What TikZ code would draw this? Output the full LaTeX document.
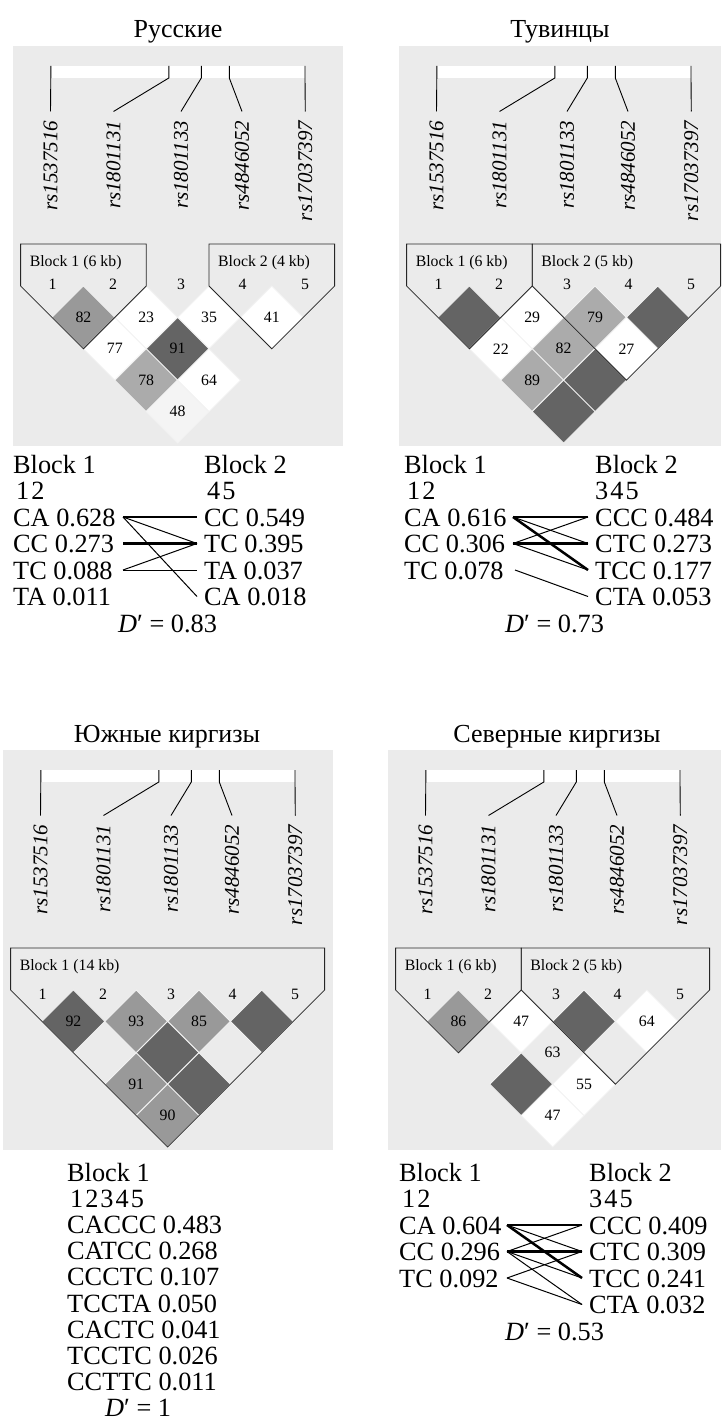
\documentclass[tikz,border=0pt]{standalone}
\usepackage{fontspec}
\setmainfont{Liberation Serif}
\definecolor{bggray}{HTML}{EBEBEB}
\definecolor{ddark}{HTML}{646464}
\definecolor{dmid}{HTML}{999999}
\definecolor{dlight}{HTML}{ABABAB}
\definecolor{dpale}{HTML}{F4F4F4}
\definecolor{cellsep}{HTML}{F2F2F2}
\newcommand\ldcell[3]{\filldraw[cellbox,fill=#3] ({39+31.4*(#1+#2-2)},{240+31.4*(#2-#1-1)}) -- ++(31.4,31.4) -- ++(-31.4,31.4) -- ++(-31.4,-31.4) -- cycle;}
\newcommand\ldtext[4]{\node[ldnum] (#4) at ({39+31.4*(#1+#2-2)},{240+31.4*(#2-#1)}) {#3};}
\newcommand\ldblock[4]{%
  \draw[blockline] ({39+62.8*(#1-1)-31.4},198) -- ({39+62.8*(#2-1)+31.4},198) -- ({39+62.8*(#2-1)+31.4},240) -- ({39+31.4*(#1+#2-2)},{240+31.4*(#2-#1+1)}) -- ({39+62.8*(#1-1)-31.4},240) -- cycle;
  \node[blocklabel] (#4) at ({39+62.8*(#1-1)-31.4+9},217) {#3};}
\newcommand\snptrack[1]{%
  \fill[white] (38,20) rectangle (292,32);
  \foreach \t/\l/\n/\s in {37.8/37.5/a/rs1537516,155.8/100.5/b/rs1801131,188.3/168/c/rs1801133,216.3/229/d/rs4846052,292/292.3/e/rs17037397}{%
    \coordinate (#1tick\n) at (\t,20);
    \node[snplabel] (#1snp\n) at (\l,74.5) {\s};
    \draw[snpline] (#1tick\n) -- ++(0,12) -- ([yshift=9bp]#1snp\n.east);
  }}
\newcommand\markers[2]{%
  \foreach \i/\xx in {1/39.5,2/100,3/168,4/229.5,5/292}{\node[ldnum] (#1m\i) at (\xx,#2) {\i};}}
\begin{document}
\begin{tikzpicture}[x=1bp,y=-1bp,
  panelbg/.style={fill=bggray,draw=none},
  snpline/.style={line width=0.9bp,black},
  snplabel/.style={font=\fontsize{21bp}{21bp}\selectfont\itshape,rotate=90,anchor=east,inner sep=0pt},
  blockline/.style={draw=black!85,line width=0.8bp},
  cellbox/.style={draw=cellsep,line width=0.8bp},
  ldnum/.style={font=\fontsize{15.8bp}{16bp}\selectfont,inner sep=0pt},
  blocklabel/.style={font=\fontsize{15.8bp}{16bp}\selectfont,inner sep=0pt,anchor=west},
  titletext/.style={font=\fontsize{26bp}{26bp}\selectfont,inner sep=0pt,anchor=base},
  hap/.style={font=\fontsize{26.3bp}{26bp}\selectfont,inner sep=0pt,anchor=base west},
  thinlink/.style={line width=1bp,black},
  thicklink/.style={line width=2.5bp,black}]
\useasboundingbox[fill=white] (0,0) rectangle (721,1420);

% ================= Top-left: Russians =================
\node[titletext] (tltitle) at (178,38) {Русские};
\begin{scope}[shift={(13,46)}]
  \fill[panelbg] (0,0) rectangle (330,400);
  \snptrack{tl}
  \ldcell{1}{2}{dmid}
  \ldcell{2}{3}{white}
  \ldcell{3}{4}{white}
  \ldcell{4}{5}{white}
  \ldcell{1}{3}{white}
  \ldcell{2}{4}{ddark}
  \ldcell{1}{4}{dlight}
  \ldcell{2}{5}{white}
  \ldcell{1}{5}{dpale}
  \ldtext{1}{2}{82}{tlc12}
  \ldtext{2}{3}{23}{tlc23}
  \ldtext{3}{4}{35}{tlc34}
  \ldtext{4}{5}{41}{tlc45}
  \ldtext{1}{3}{77}{tlc13}
  \ldtext{2}{4}{91}{tlc24}
  \ldtext{1}{4}{78}{tlc14}
  \ldtext{2}{5}{64}{tlc25}
  \ldtext{1}{5}{48}{tlc15}
  \ldblock{1}{2}{Block 1 (6 kb)}{tlblk1}
  \ldblock{4}{5}{Block 2 (4 kb)}{tlblk2}
  \markers{tl}{238}
\end{scope}
\node[hap] (tlB1) at (13,473) {Block 1};
\node[hap] (tlB2) at (204,473) {Block 2};
\node[hap] (tlN1) at (13,499.5) {\kern3bp 1\kern2bp 2};
\node[hap] (tlN2) at (204,499.5) {\kern3bp 4\kern2bp 5};
\node[hap] (tlL1) at (13,526) {CA 0.628};
\node[hap] (tlL2) at (13,552.5) {CC 0.273};
\node[hap] (tlL3) at (13,579) {TC 0.088};
\node[hap] (tlL4) at (13,605.5) {TA 0.011};
\node[hap] (tlR1) at (204,526) {CC 0.549};
\node[hap] (tlR2) at (204,552.5) {TC 0.395};
\node[hap] (tlR3) at (204,579) {TA 0.037};
\node[hap] (tlR4) at (204,605.5) {CA 0.018};
\node[hap] (tlD) at (118,632) {\textit{D}′ = 0.83};
\coordinate (tlp1) at (123,517);
\coordinate (tlp2) at (123,543.5);
\coordinate (tlp3) at (123,570);
\coordinate (tlq1) at (197,517);
\coordinate (tlq2) at (197,543.5);
\coordinate (tlq3) at (197,570);
\coordinate (tlq4) at (197,596.5);
\draw[thicklink] (tlp1) -- (tlq1);
\draw[thinlink] (tlp1) -- (tlq2);
\draw[thinlink] (tlp1) -- (tlq4);
\draw[thicklink] (tlp2) -- (tlq2);
\draw[thinlink] (tlp3) -- (tlq2);
\draw[thinlink] (tlp3) -- (tlq3);

% ================= Top-right: Tuvans =================
\node[titletext] (trtitle) at (560,38) {Тувинцы};
\begin{scope}[shift={(399,46)}]
  \fill[panelbg] (0,0) rectangle (322,400);
  \snptrack{tr}
  \ldcell{1}{2}{ddark}
  \ldcell{2}{3}{white}
  \ldcell{3}{4}{dlight}
  \ldcell{4}{5}{ddark}
  \ldcell{1}{3}{white}
  \ldcell{2}{4}{dlight}
  \ldcell{3}{5}{white}
  \ldcell{1}{4}{dlight}
  \ldcell{2}{5}{ddark}
  \ldcell{1}{5}{ddark}
  \ldtext{2}{3}{29}{trc23}
  \ldtext{3}{4}{79}{trc34}
  \ldtext{1}{3}{22}{trc13}
  \ldtext{2}{4}{82}{trc24}
  \ldtext{3}{5}{27}{trc35}
  \ldtext{1}{4}{89}{trc14}
  \ldblock{1}{2}{Block 1 (6 kb)}{trblk1}
  \ldblock{3}{5}{Block 2 (5 kb)}{trblk2}
  \markers{tr}{238}
\end{scope}
\node[hap] (trB1) at (404,473) {Block 1};
\node[hap] (trB2) at (595,473) {Block 2};
\node[hap] (trN1) at (404,499.5) {\kern3bp 1\kern2bp 2};
\node[hap] (trN2) at (595,499.5) {3\kern2bp 4\kern2bp 5};
\node[hap] (trL1) at (404,526) {CA 0.616};
\node[hap] (trL2) at (404,552.5) {CC 0.306};
\node[hap] (trL3) at (404,579) {TC 0.078};
\node[hap] (trR1) at (595,526) {CCC 0.484};
\node[hap] (trR2) at (595,552.5) {CTC 0.273};
\node[hap] (trR3) at (595,579) {TCC 0.177};
\node[hap] (trR4) at (595,605.5) {CTA 0.053};
\node[hap] (trD) at (505,632) {\textit{D}′ = 0.73};
\coordinate (trp1) at (513,517);
\coordinate (trp2) at (513,543.5);
\coordinate (trp3) at (515,570);
\coordinate (trq1) at (588,517);
\coordinate (trq2) at (588,543.5);
\coordinate (trq3) at (588,570);
\coordinate (trq4) at (588,596.5);
\draw[thicklink] (trp1) -- (trq1);
\draw[thinlink] (trp1) -- (trq2);
\draw[thicklink] (trp1) -- (trq3);
\draw[thinlink] (trp2) -- (trq1);
\draw[thicklink] (trp2) -- (trq2);
\draw[thinlink] (trp2) -- (trq3);
\draw[thinlink] (trp3) -- (trq4);

% ================= Bottom-left: Southern Kyrgyz =================
\node[titletext] (bltitle) at (167,742) {Южные киргизы};
\begin{scope}[shift={(3,750)}]
  \fill[panelbg] (0,0) rectangle (330,400);
  \snptrack{bl}
  \ldcell{1}{2}{ddark}
  \ldcell{2}{3}{dmid}
  \ldcell{3}{4}{dmid}
  \ldcell{4}{5}{ddark}
  \ldcell{2}{4}{ddark}
  \ldcell{1}{4}{dmid}
  \ldcell{2}{5}{ddark}
  \ldcell{1}{5}{dmid}
  \ldtext{1}{2}{92}{blc12}
  \ldtext{2}{3}{93}{blc23}
  \ldtext{3}{4}{85}{blc34}
  \ldtext{1}{4}{91}{blc14}
  \ldtext{1}{5}{90}{blc15}
  \ldblock{1}{5}{Block 1 (14 kb)}{blblk1}
  \markers{bl}{244}
\end{scope}
\node[hap] (blB1) at (67,1181) {Block 1};
\node[hap] (blN1) at (67,1207.2) {\kern3bp 1\kern2bp 2\kern2bp 3\kern2bp 4\kern2bp 5};
\node[hap] (blH1) at (67,1233.4) {CACCC 0.483};
\node[hap] (blH2) at (67,1259.6) {CATCC 0.268};
\node[hap] (blH3) at (67,1285.8) {CCCTC 0.107};
\node[hap] (blH4) at (67,1312) {TCCTA 0.050};
\node[hap] (blH5) at (67,1338.2) {CACTC 0.041};
\node[hap] (blH6) at (67,1364.4) {TCCTC 0.026};
\node[hap] (blH7) at (67,1390.6) {CCTTC 0.011};
\node[hap] (blD) at (105,1416.8) {\textit{D}′ = 1};

% ================= Bottom-right: Northern Kyrgyz =================
\node[titletext] (brtitle) at (557,742) {Северные киргизы};
\begin{scope}[shift={(388,750)}]
  \fill[panelbg] (0,0) rectangle (333,400);
  \snptrack{br}
  \ldcell{1}{2}{dmid}
  \ldcell{2}{3}{white}
  \ldcell{3}{4}{ddark}
  \ldcell{4}{5}{white}
  \ldcell{1}{4}{ddark}
  \ldcell{2}{5}{white}
  \ldcell{1}{5}{white}
  \ldtext{1}{2}{86}{brc12}
  \ldtext{2}{3}{47}{brc23}
  \ldtext{4}{5}{64}{brc45}
  \ldtext{2}{4}{63}{brc24}
  \ldtext{2}{5}{55}{brc25}
  \ldtext{1}{5}{47}{brc15}
  \ldblock{1}{2}{Block 1 (6 kb)}{brblk1}
  \ldblock{3}{5}{Block 2 (5 kb)}{brblk2}
  \markers{br}{244}
\end{scope}
\node[hap] (brB1) at (399,1181) {Block 1};
\node[hap] (brB2) at (589,1181) {Block 2};
\node[hap] (brN1) at (399,1207.5) {\kern3bp 1\kern2bp 2};
\node[hap] (brN2) at (589,1207.5) {3\kern2bp 4\kern2bp 5};
\node[hap] (brL1) at (399,1234) {CA 0.604};
\node[hap] (brL2) at (399,1260.5) {CC 0.296};
\node[hap] (brL3) at (399,1287) {TC 0.092};
\node[hap] (brR1) at (589,1234) {CCC 0.409};
\node[hap] (brR2) at (589,1260.5) {CTC 0.309};
\node[hap] (brR3) at (589,1287) {TCC 0.241};
\node[hap] (brR4) at (589,1313.5) {CTA 0.032};
\node[hap] (brD) at (505,1340) {\textit{D}′ = 0.53};
\coordinate (brp1) at (507,1225);
\coordinate (brp2) at (507,1251.5);
\coordinate (brp3) at (507,1278);
\coordinate (brq1) at (582,1225);
\coordinate (brq2) at (582,1251.5);
\coordinate (brq3) at (582,1278);
\coordinate (brq4) at (582,1304.5);
\draw[thicklink] (brp1) -- (brq1);
\draw[thinlink] (brp1) -- (brq2);
\draw[thicklink] (brp1) -- (brq3);
\draw[thinlink] (brp2) -- (brq1);
\draw[thicklink] (brp2) -- (brq2);
\draw[thinlink] (brp2) -- (brq3);
\draw[thinlink] (brp2) -- (brq4);
\draw[thinlink] (brp3) -- (brq2);
\draw[thinlink] (brp3) -- (brq4);
\end{tikzpicture}
\end{document}
